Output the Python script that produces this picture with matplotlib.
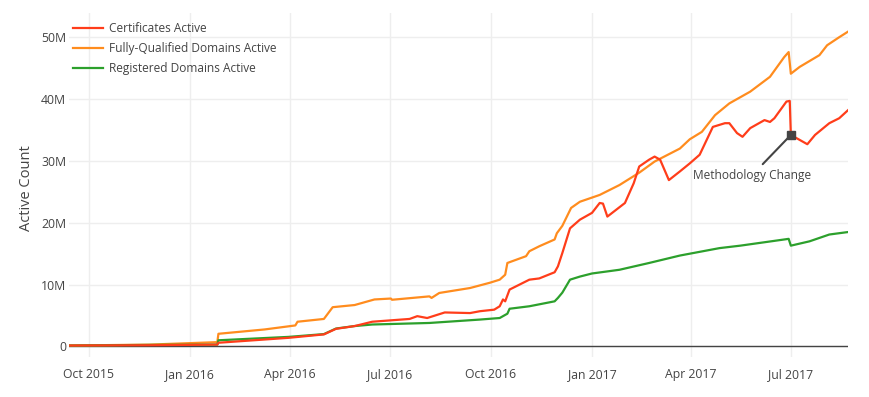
import matplotlib
matplotlib.use("Agg")
import matplotlib.pyplot as plt
import pandas as pd

# values in millions
cert_dates = ["2015-09-13", "2015-11-25", "2016-01-26", "2016-01-27", "2016-03-31",
              "2016-05-02", "2016-05-13", "2016-05-30", "2016-06-15", "2016-07-19",
              "2016-07-26", "2016-08-04", "2016-08-20", "2016-09-12", "2016-09-21",
              "2016-10-04", "2016-10-09", "2016-10-12", "2016-10-14", "2016-10-18",
              "2016-11-05", "2016-11-14", "2016-11-28", "2016-12-01", "2016-12-05",
              "2016-12-12", "2016-12-21", "2017-01-01", "2017-01-08", "2017-01-11",
              "2017-01-15", "2017-01-31", "2017-02-08", "2017-02-13", "2017-02-22",
              "2017-02-27", "2017-03-04", "2017-03-12", "2017-03-22", "2017-03-31",
              "2017-04-09", "2017-04-21", "2017-05-02", "2017-05-06", "2017-05-13",
              "2017-05-18", "2017-05-25", "2017-06-07", "2017-06-12", "2017-06-16",
              "2017-06-27", "2017-06-30", "2017-07-01", "2017-07-16", "2017-07-23",
              "2017-08-05", "2017-08-14", "2017-08-22"]
cert_vals = [0.15, 0.2, 0.3, 0.6, 1.4,
             1.95, 2.85, 3.3, 4.0, 4.45,
             4.9, 4.6, 5.5, 5.4, 5.7,
             5.95, 6.5, 7.6, 7.3, 9.2,
             10.8, 11.0, 12.0, 12.95, 15.1,
             19.1, 20.5, 21.6, 23.2, 23.1,
             21.0, 23.2, 26.4, 29.1, 30.2,
             30.7, 30.2, 26.9, 28.3, 29.6,
             31.0, 35.5, 36.1, 36.1, 34.5,
             33.9, 35.3, 36.6, 36.3, 36.9,
             39.6, 39.7, 34.2, 32.7, 34.2,
             36.1, 36.9, 38.2]

fqdn_dates = ["2015-09-13", "2015-11-25", "2016-01-26", "2016-01-27", "2016-03-09",
              "2016-04-06", "2016-04-08", "2016-05-02", "2016-05-10", "2016-05-30",
              "2016-06-17", "2016-07-02", "2016-07-03", "2016-08-06", "2016-08-08",
              "2016-08-15", "2016-09-12", "2016-09-30", "2016-10-09", "2016-10-14",
              "2016-10-16", "2016-11-02", "2016-11-05", "2016-11-14", "2016-11-28",
              "2016-11-30", "2016-12-05", "2016-12-13", "2016-12-21", "2017-01-08",
              "2017-01-26", "2017-02-13", "2017-02-27", "2017-03-22", "2017-03-31",
              "2017-04-11", "2017-04-23", "2017-05-06", "2017-05-25", "2017-06-12",
              "2017-06-25", "2017-06-29", "2017-07-01", "2017-07-09", "2017-07-27",
              "2017-08-03", "2017-08-14", "2017-08-22"]
fqdn_vals = [0.15, 0.3, 0.7, 2.05, 2.75,
             3.4, 4.0, 4.45, 6.35, 6.7,
             7.6, 7.75, 7.55, 8.1, 7.85,
             8.65, 9.45, 10.3, 10.8, 11.6,
             13.5, 14.6, 15.4, 16.2, 17.3,
             18.3, 19.5, 22.4, 23.4, 24.5,
             26.1, 28.1, 29.9, 32.0, 33.5,
             34.7, 37.4, 39.3, 41.2, 43.6,
             46.8, 47.6, 44.1, 45.2, 47.1,
             48.7, 50.0, 50.9]

reg_dates = ["2015-09-13", "2015-11-25", "2016-01-26", "2016-01-27", "2016-03-31",
             "2016-05-02", "2016-05-13", "2016-05-30", "2016-06-15", "2016-08-06",
             "2016-09-21", "2016-10-09", "2016-10-16", "2016-10-18", "2016-11-05",
             "2016-11-28", "2016-12-01", "2016-12-05", "2016-12-12", "2016-12-21",
             "2017-01-01", "2017-01-26", "2017-02-22", "2017-03-22", "2017-04-09",
             "2017-04-27", "2017-05-16", "2017-06-29", "2017-07-01", "2017-07-18",
             "2017-08-05", "2017-08-22"]
reg_vals = [0.15, 0.25, 0.3, 1.0, 1.55,
            2.0, 2.9, 3.3, 3.55, 3.8,
            4.35, 4.6, 5.3, 6.1, 6.5,
            7.3, 7.85, 8.7, 10.8, 11.3,
            11.8, 12.4, 13.5, 14.7, 15.3,
            15.9, 16.3, 17.4, 16.3, 17.0,
            18.1, 18.5]

note_date = "2017-07-01"
note_val = 34.2
note_text = "Methodology Change"

yticks = [0, 10, 20, 30, 40, 50]
ytick_labels = ["0", "10M", "20M", "30M", "40M", "50M"]
xticks = ["2015-10-01", "2016-01-01", "2016-04-01", "2016-07-01", "2016-10-01",
          "2017-01-01", "2017-04-01", "2017-07-01"]
xtick_labels = ["Oct 2015", "Jan 2016", "Apr 2016", "Jul 2016", "Oct 2016",
                "Jan 2017", "Apr 2017", "Jul 2017"]

plt.rcParams['font.family'] = ['Open Sans', 'DejaVu Sans']

fig = plt.figure(figsize=(8.7, 3.97), dpi=100)
ax = fig.add_axes([0.0793, 0.1008, 0.8954, 0.8662])

for s in ax.spines.values():
    s.set_visible(False)

ax.plot(pd.to_datetime(cert_dates), cert_vals, c='#ff3d1a', lw=1.6, label="Certificates Active", zorder=4)
ax.plot(pd.to_datetime(fqdn_dates), fqdn_vals, c='#ff8c1e', lw=1.6, label="Fully-Qualified Domains Active", zorder=3)
ax.plot(pd.to_datetime(reg_dates), reg_vals, c='#2ca02c', lw=1.6, label="Registered Domains Active", zorder=3)

ax.axhline(0, color='#444444', lw=1, zorder=2)

# annotation with marker
nd = pd.to_datetime(note_date)
ax.plot([nd], [note_val], marker='s', ms=6, c='#444444', zorder=5)
ax.annotate(note_text, xy=(nd, note_val), xytext=(-39, -34), textcoords='offset pixels',
            ha='center', va='top', fontsize=8.6, color='#444444',
            arrowprops=dict(arrowstyle='-', color='#444444', lw=1.5, shrinkA=2, shrinkB=0))

ax.set_xlim(pd.to_datetime(cert_dates[0]), pd.to_datetime(cert_dates[-1]))
ax.set_ylim(-1.7, 53.9)

ax.set_yticks(yticks)
ax.set_yticklabels(ytick_labels)
ax.set_xticks(pd.to_datetime(xticks))
ax.set_xticklabels(xtick_labels)

ax.tick_params(length=0, labelsize=8.8, colors='#444444')
ax.tick_params(axis='y', pad=2)
ax.tick_params(axis='x', pad=8)
ax.grid(True, color='#eeeeee', lw=1)
ax.set_axisbelow(True)

fig.text(27 / 870, 1 - 188 / 397, "Active Count", rotation=90, ha='center', va='center',
         fontsize=10.5, color='#444444')

leg = ax.legend(loc='upper left', bbox_to_anchor=(0.005, 0.974), frameon=False,
                fontsize=8.6, handlelength=2.5, handletextpad=0.55,
                labelspacing=0.6, borderaxespad=0, borderpad=0)
for t in leg.get_texts():
    t.set_color('#444444')

fig.savefig("out.png", dpi=100)
